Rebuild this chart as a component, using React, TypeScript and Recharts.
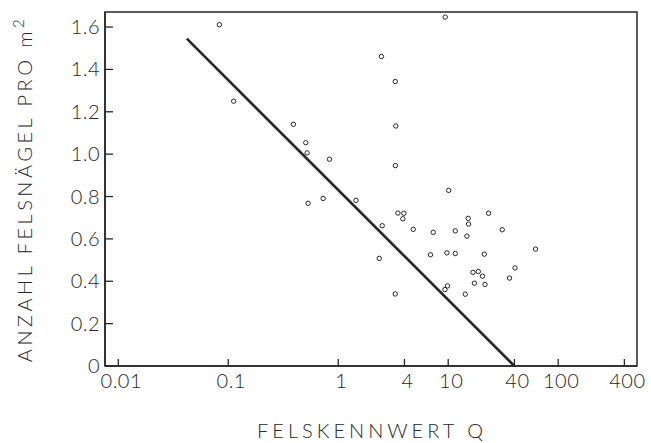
import { ReferenceArea, ReferenceLine, Scatter, ScatterChart, XAxis, YAxis } from "recharts";

// Felskennwert Q (log axis) vs anchors per m2
const qValues = [
  0.083, 0.112, 0.391, 0.507, 0.521, 0.832, 0.729, 0.532, 1.45, 2.47, 3.3,
  3.34, 3.31, 9.39, 10.1, 3.49, 3.95, 3.87, 2.51, 4.81, 7.31, 11.6, 15.2,
  15.3, 14.8, 23.3, 31.0, 62.3, 2.36, 6.9, 9.73, 11.6, 21.3, 16.8, 18.8,
  20.5, 17.3, 21.6, 40.5, 36.1, 9.86, 9.33, 3.3, 14.3,
];
const anchorDensity = [
  1.611, 1.25, 1.141, 1.054, 1.006, 0.976, 0.791, 0.768, 0.782, 1.461, 1.343,
  1.133, 0.946, 1.647, 0.829, 0.722, 0.721, 0.695, 0.662, 0.645, 0.631,
  0.638, 0.697, 0.67, 0.613, 0.721, 0.643, 0.552, 0.508, 0.525, 0.534, 0.531,
  0.528, 0.442, 0.446, 0.424, 0.391, 0.385, 0.463, 0.415, 0.378, 0.361, 0.34,
  0.339,
];

const trendQ = [0.042, 40];
const trendDensity = [1.545, 0];

const xTicks = [0.01, 0.1, 1, 4, 10, 40, 100, 400];
const yTicks = [0, 0.2, 0.4, 0.6, 0.8, 1.0, 1.2, 1.4, 1.6];

const X_DOMAIN = [0.00757, 521];
const Y_DOMAIN = [0, 1.671];

const INK = "#262626";
const FONT = "Lato, 'DejaVu Sans', sans-serif";

const points = qValues.map((q, i) => ({ q, n: anchorDensity[i] }));

function fmtX(v: number) {
  return String(v);
}

function fmtY(v: number) {
  return v === 0 ? "0" : v.toFixed(1);
}

function XTick(props: any) {
  const { x, y, payload } = props;
  return (
    <g>
      <line x1={x} y1={y} x2={x} y2={y - 7} stroke={INK} strokeWidth={1.3} />
      <text
        x={x + 3}
        y={y + 22}
        textAnchor="middle"
        fontSize={20}
        fontFamily={FONT}
        fontWeight={300}
        fill={INK}
        letterSpacing={0.5}
      >
        {fmtX(payload.value)}
      </text>
    </g>
  );
}

function YTick(props: any) {
  const { x, y, payload } = props;
  return (
    <g>
      <line x1={x} y1={y} x2={x + 8} y2={y} stroke={INK} strokeWidth={1.3} />
      <text
        x={x - 5}
        y={y + 7}
        textAnchor="end"
        fontSize={20}
        fontFamily={FONT}
        fontWeight={300}
        fill={INK}
        letterSpacing={0.5}
      >
        {fmtY(payload.value)}
      </text>
    </g>
  );
}

function Ring(props: any) {
  const { cx, cy } = props;
  return <circle cx={cx} cy={cy} r={2.2} fill="#fff" stroke={INK} strokeWidth={1} />;
}

export default function App() {
  return (
    <div style={{ position: "absolute", left: 0, top: 0, width: 651, height: 443, background: "#fff" }}>
      <ScatterChart
        width={651}
        height={443}
        margin={{ top: 12, right: 14, bottom: 0, left: 0 }}
      >
        <XAxis
          type="number"
          dataKey="q"
          scale="log"
          domain={X_DOMAIN}
          allowDataOverflow
          ticks={xTicks}
          tick={<XTick />}
          tickLine={false}
          tickSize={0}
          tickMargin={0}
          axisLine={{ stroke: INK, strokeWidth: 1.5 }}
          height={77}
          interval={0}
        />
        <YAxis
          type="number"
          dataKey="n"
          domain={Y_DOMAIN}
          allowDataOverflow
          ticks={yTicks}
          tick={<YTick />}
          tickLine={false}
          tickSize={0}
          tickMargin={0}
          axisLine={{ stroke: INK, strokeWidth: 1.5 }}
          width={105}
          interval={0}
        />
        <ReferenceArea
          x1={X_DOMAIN[0]}
          x2={X_DOMAIN[1]}
          y1={Y_DOMAIN[0]}
          y2={Y_DOMAIN[1]}
          fill="none"
          stroke={INK}
          strokeWidth={1.5}
        />
        <ReferenceLine
          segment={[
            { x: trendQ[0], y: trendDensity[0] },
            { x: trendQ[1], y: trendDensity[1] },
          ]}
          stroke={INK}
          strokeWidth={2.6}
        />
        <Scatter data={points} shape={<Ring />} isAnimationActive={false} />
        <text
          x={372}
          y={438}
          textAnchor="middle"
          fontSize={20}
          fontFamily={FONT}
          fontWeight={300}
          fill={INK}
          letterSpacing={4}
        >
          FELSKENNWERT Q
        </text>
        <text
          transform="translate(32,189) rotate(-90)"
          textAnchor="middle"
          fontSize={20}
          fontFamily={FONT}
          fontWeight={300}
          fill={INK}
          letterSpacing={3.5}
        >
          ANZAHL FELSNÄGEL PRO m
          <tspan dy={-8} fontSize={15}>2</tspan>
        </text>
      </ScatterChart>
    </div>
  );
}
